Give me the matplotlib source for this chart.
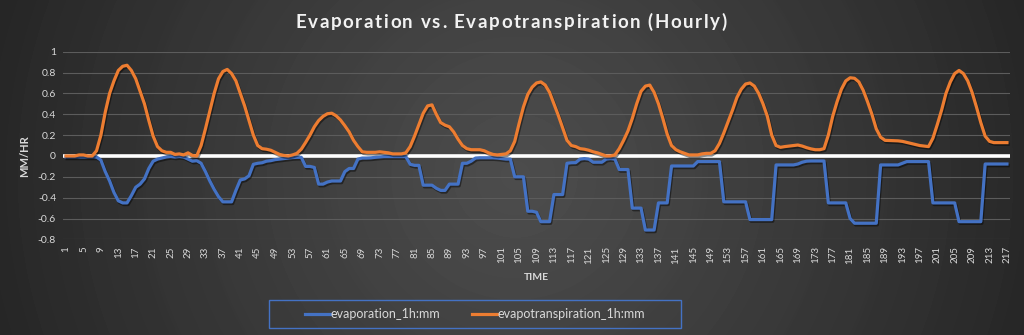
import numpy as np
import matplotlib
matplotlib.use("Agg")
import matplotlib.pyplot as plt
import matplotlib.patheffects as pe
from matplotlib.patches import Rectangle
from matplotlib.lines import Line2D

# ---------------- data ----------------
hours = list(range(1, 218))

evapotranspiration = [
    0.0, 0.0, 0.0, 0.01, 0.01, 0.0, 0.0, 0.05, 0.2, 0.42,
    0.6, 0.72, 0.82, 0.86, 0.87, 0.82, 0.74, 0.62, 0.5, 0.34,
    0.19, 0.09, 0.05, 0.035, 0.035, 0.015, 0.02, 0.01, 0.03, 0.005,
    0.0, 0.1, 0.26, 0.43, 0.6, 0.74, 0.81, 0.83, 0.79, 0.72,
    0.6, 0.48, 0.34, 0.2, 0.1, 0.07, 0.065, 0.055, 0.035, 0.015,
    0.005, 0.0, 0.01, 0.025, 0.065, 0.13, 0.2, 0.28, 0.34, 0.38,
    0.405, 0.41, 0.385, 0.345, 0.29, 0.23, 0.15, 0.09, 0.04, 0.035,
    0.035, 0.035, 0.04, 0.035, 0.03, 0.02, 0.02, 0.02, 0.03, 0.09,
    0.19, 0.3, 0.41, 0.48, 0.49, 0.4, 0.32, 0.295, 0.28, 0.23,
    0.16, 0.1, 0.07, 0.06, 0.06, 0.06, 0.05, 0.03, 0.015, 0.01,
    0.015, 0.02, 0.05, 0.14, 0.31, 0.47, 0.59, 0.66, 0.7, 0.71,
    0.68, 0.61, 0.5, 0.39, 0.27, 0.15, 0.1, 0.09, 0.07, 0.065,
    0.055, 0.04, 0.03, 0.015, 0.0, 0.0, 0.01, 0.07, 0.15, 0.24,
    0.36, 0.5, 0.62, 0.67, 0.68, 0.61, 0.5, 0.36, 0.21, 0.1,
    0.06, 0.04, 0.025, 0.01, 0.01, 0.01, 0.02, 0.025, 0.025, 0.05,
    0.12, 0.22, 0.33, 0.44, 0.56, 0.64, 0.69, 0.7, 0.67, 0.6,
    0.5, 0.38, 0.2, 0.1, 0.083, 0.09, 0.095, 0.1, 0.105, 0.095,
    0.08, 0.068, 0.06, 0.06, 0.07, 0.2, 0.38, 0.52, 0.64, 0.72,
    0.75, 0.745, 0.71, 0.63, 0.52, 0.4, 0.26, 0.18, 0.15, 0.148,
    0.145, 0.145, 0.14, 0.13, 0.12, 0.11, 0.1, 0.095, 0.09, 0.17,
    0.3, 0.44, 0.6, 0.71, 0.79, 0.82, 0.79, 0.72, 0.61, 0.47,
    0.32, 0.19, 0.14, 0.128, 0.128, 0.128, 0.128,
]

evaporation = [
    -0.01, -0.01, -0.01, -0.01, -0.01, -0.01, -0.01, -0.01, -0.04, -0.15,
    -0.24, -0.35, -0.43, -0.45, -0.45, -0.38, -0.3, -0.27, -0.22, -0.12,
    -0.05, -0.03, -0.02, -0.01, -0.005, -0.01, -0.005, -0.01, -0.03, -0.05,
    -0.045, -0.07, -0.15, -0.24, -0.32, -0.39, -0.44, -0.44, -0.44, -0.33,
    -0.23, -0.22, -0.19, -0.08, -0.07, -0.065, -0.05, -0.045, -0.035, -0.03,
    -0.025, -0.02, -0.015, -0.013, -0.013, -0.1, -0.1, -0.11, -0.27, -0.27,
    -0.25, -0.24, -0.24, -0.24, -0.15, -0.12, -0.12, -0.03, -0.02, -0.02,
    -0.018, -0.013, -0.01, -0.006, -0.006, -0.006, -0.006, -0.006, -0.006, -0.08,
    -0.09, -0.09, -0.28, -0.28, -0.28, -0.31, -0.33, -0.33, -0.27, -0.27,
    -0.27, -0.07, -0.07, -0.05, -0.02, -0.017, -0.017, -0.017, -0.017, -0.02,
    -0.025, -0.03, -0.03, -0.2, -0.2, -0.2, -0.53, -0.53, -0.54, -0.63,
    -0.63, -0.63, -0.37, -0.37, -0.37, -0.07, -0.065, -0.064, -0.03, -0.025,
    -0.03, -0.06, -0.06, -0.06, -0.03, -0.025, -0.03, -0.13, -0.13, -0.13,
    -0.5, -0.5, -0.5, -0.71, -0.71, -0.71, -0.45, -0.45, -0.45, -0.096,
    -0.096, -0.096, -0.096, -0.096, -0.096, -0.054, -0.054, -0.054, -0.054, -0.054,
    -0.054, -0.44, -0.44, -0.44, -0.44, -0.44, -0.44, -0.61, -0.61, -0.61,
    -0.61, -0.61, -0.61, -0.086, -0.086, -0.086, -0.086, -0.086, -0.077, -0.06,
    -0.05, -0.048, -0.048, -0.048, -0.048, -0.45, -0.45, -0.45, -0.45, -0.45,
    -0.6, -0.645, -0.645, -0.645, -0.645, -0.645, -0.645, -0.086, -0.086, -0.086,
    -0.086, -0.086, -0.07, -0.054, -0.054, -0.054, -0.054, -0.054, -0.054, -0.45,
    -0.45, -0.45, -0.45, -0.45, -0.45, -0.63, -0.63, -0.63, -0.63, -0.63,
    -0.63, -0.077, -0.077, -0.077, -0.077, -0.077, -0.077,
]

y_ticks = [-0.8, -0.6, -0.4, -0.2, 0, 0.2, 0.4, 0.6, 0.8, 1]
x_tick_labels = hours[::4]

title = "Evaporation vs. Evapotranspiration (Hourly)"
series_names = ["evaporation_1h:mm", "evapotranspiration_1h:mm"]

# ---------------- styling ----------------
FONT = ["Lato", "DejaVu Sans"]
plt.rcParams["font.family"] = FONT
TXT = "#d9d9d9"
BLUE = "#4472c4"
ORANGE = "#ed7d31"

W, H = 1024, 335
fig = plt.figure(figsize=(W / 100, H / 100), dpi=100)

# radial background
bg = fig.add_axes([0, 0, 1, 1], zorder=-10)
yy, xx = np.mgrid[0:H, 0:W]
d = np.sqrt((xx - 515) ** 2 + (yy - 175) ** 2)
t = np.clip(d / 560.0, 0, 1)
steps = np.floor(t * 9) / 9
t2 = 0.7 * t + 0.3 * steps
val = 0.30 - (0.30 - 0.14) * t2 ** 1.1
bg.imshow(np.dstack([val, val, val]), aspect="auto", extent=[0, 1, 0, 1], origin="upper")
bg.set_axis_off()

ax_l, ax_r = 63 / W, 1010 / W
ax_t, ax_b = 1 - 51.7 / H, 1 - 239.4 / H
ax = fig.add_axes([ax_l, ax_b, ax_r - ax_l, ax_t - ax_b])
ax.set_facecolor("none")
for s in ax.spines.values():
    s.set_visible(False)

ax.set_ylim(-0.8, 1.0)
ax.set_xlim(0.3, 217.7)
ax.set_yticks(y_ticks)
ax.set_yticklabels([f"{v:g}" for v in y_ticks], color=TXT, fontsize=7.5)
ax.set_xticks(x_tick_labels)
ax.set_xticklabels([str(v) for v in x_tick_labels], rotation=90, color=TXT, fontsize=7)
ax.tick_params(axis="both", length=0)
ax.tick_params(axis="y", pad=5)
ax.tick_params(axis="x", pad=5)
ax.grid(axis="y", color="#5c5c5c", linewidth=0.8)
ax.set_axisbelow(True)

ax.axhline(0, color="white", linewidth=2.6, zorder=2)

shadow = [pe.SimpleLineShadow(offset=(0.8, -1.2), shadow_color="black", alpha=0.45), pe.Normal()]
ax.plot(hours, evaporation, color=BLUE, linewidth=2.3, zorder=3,
        solid_joinstyle="round", path_effects=shadow)
ax.plot(hours, evapotranspiration, color=ORANGE, linewidth=2.3, zorder=4,
        solid_joinstyle="round", path_effects=shadow)

# title with letter spacing (Excel style)
fig.canvas.draw()
renderer = fig.canvas.get_renderer()
tprops = dict(color="#f2f2f2", fontsize=13.5, fontweight="bold", family=FONT)
spacing_px = 1.6
widths = []
for ch in title:
    tmp = fig.text(0, 0, ch if ch != " " else "a a", **tprops)
    w = tmp.get_window_extent(renderer).width
    if ch == " ":
        tmp2 = fig.text(0, 0, "aa", **tprops)
        w = w - tmp2.get_window_extent(renderer).width
        tmp2.remove()
    widths.append(w)
    tmp.remove()
total = sum(widths) + spacing_px * (len(title) - 1)
x = 511 - total / 2
for ch, w in zip(title, widths):
    if ch != " ":
        fig.text(x / W, 1 - 22 / H, ch, ha="left", va="center", **tprops)
    x += w + spacing_px

fig.text((63 + 1010) / 2 / W, 1 - 277 / H, "TIME", ha="center", va="center",
         color=TXT, fontsize=7.5, fontweight="bold")
fig.text(25 / W, 1 - 156 / H, "MM/HR", ha="center", va="center", rotation=90,
         color=TXT, fontsize=8, fontweight="bold")

# legend
handles = [Line2D([], [], color=BLUE, linewidth=2.3),
           Line2D([], [], color=ORANGE, linewidth=2.3)]
leg = fig.legend(handles, series_names, loc="center",
                 bbox_to_anchor=((269 + 681) / 2 / W, 1 - 314 / H),
                 ncol=2, frameon=False, fontsize=9, handlelength=2.0,
                 handletextpad=0.05, columnspacing=2.56, labelcolor=TXT)
fig.patches.append(Rectangle((269 / W, 1 - 327.7 / H), 412 / W, 27.7 / H,
                             transform=fig.transFigure, fill=False,
                             edgecolor=BLUE, linewidth=1.0))

fig.savefig("out.png", dpi=100)
